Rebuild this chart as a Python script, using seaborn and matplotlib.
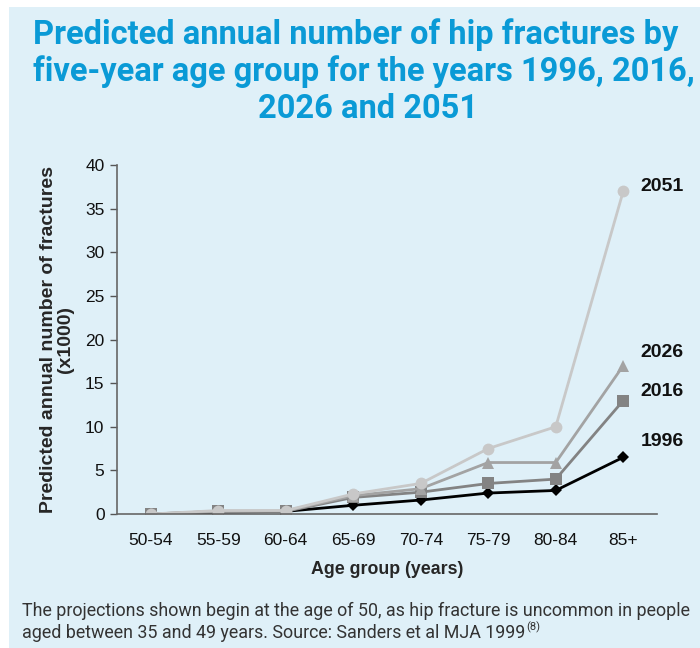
import matplotlib
matplotlib.use("Agg")
import matplotlib.pyplot as plt
import seaborn as sns
import pandas as pd

age_groups = ["50-54", "55-59", "60-64", "65-69", "70-74", "75-79", "80-84", "85+"]
years = ["1996", "2016", "2026", "2051"]
v1996 = [0.0, 0.2, 0.3, 1.0, 1.6, 2.4, 2.7, 6.5]
v2016 = [0.0, 0.3, 0.3, 1.9, 2.5, 3.5, 4.0, 13.0]
v2026 = [0.0, 0.3, 0.35, 2.1, 2.9, 5.9, 5.9, 17.0]
v2051 = [0.0, 0.4, 0.4, 2.3, 3.5, 7.5, 10.0, 37.0]
series = {"1996": v1996, "2016": v2016, "2026": v2026, "2051": v2051}

title_lines = ["Predicted annual number of hip fractures by",
               "five-year age group for the years 1996, 2016,",
               "2026 and 2051"]
xlabel = "Age group (years)"
ylabel = "Predicted annual number of fractures\n(x1000)"
note1 = "The projections shown begin at the age of 50, as hip fracture is uncommon in people"
note2 = "aged between 35 and 49 years. Source: Sanders et al MJA 1999"
note_sup = "(8)"

rows = []
for y in years:
    for i, (a, v) in enumerate(zip(age_groups, series[y])):
        rows.append({"age": a, "pos": i, "value": v, "year": y})
df = pd.DataFrame(rows)

sns.set_theme(style="white")
plt.rcParams["font.family"] = ["Liberation Sans", "DejaVu Sans"]

NARROW = ["Roboto", "DejaVu Sans"]
BG = "#dff0f8"
fig = plt.figure(figsize=(7.0, 6.48), dpi=100)
fig.patch.set_facecolor("white")
panel = plt.Rectangle((9 / 700, 0), 1, 1 - 7 / 648, transform=fig.transFigure,
                      facecolor=BG, edgecolor="none", zorder=-10)
fig.patches.append(panel)

ax = fig.add_axes([117 / 700, 1 - 514 / 648, (657 - 117) / 700, (514 - 165) / 648])
ax.set_facecolor(BG)

palette = {"1996": "#000000", "2016": "#838383", "2026": "#a3a3a3", "2051": "#c8c8c8"}
markers = {"1996": "D", "2016": "s", "2026": "^", "2051": "o"}
sizes_m = {"1996": 6.5, "2016": 8, "2026": 9, "2051": 8.5}

for y in years:
    sub = df[df["year"] == y]
    sns.lineplot(data=sub, x="pos", y="value", ax=ax, color=palette[y],
                 marker=markers[y], markersize=sizes_m[y], markeredgewidth=0,
                 linewidth=2, legend=False)

ax.set_xlim(-0.5, 7.5)
ax.set_ylim(0, 40)
ax.set_yticks(range(0, 41, 5))
ax.set_xticks(range(len(age_groups)))
ax.set_xticklabels(age_groups)
ax.tick_params(axis="y", which="both", left=True, length=5, width=1, color="#555555",
               labelsize=12.5, pad=4, labelcolor="#111111")
ax.tick_params(axis="x", which="both", bottom=False, labelsize=12.5, pad=8, labelcolor="#111111")
for s in ["top", "right"]:
    ax.spines[s].set_visible(False)
for s in ["left", "bottom"]:
    ax.spines[s].set_color("#666666")
    ax.spines[s].set_linewidth(1.2)

ax.set_xlabel(xlabel, fontsize=12.8, fontweight="bold", labelpad=9)
ax.set_ylabel(ylabel, fontsize=14, fontweight="bold", labelpad=8, linespacing=1.0)

# series labels at the right end
label_y = {"2051": 37.5, "2026": 18.5, "2016": 14.0, "1996": 8.3}
for y in years:
    ax.text(7.26, label_y[y], y, fontsize=14, fontweight="bold", color="#111111",
            va="center", ha="left", clip_on=False)

title_y = [35, 72, 109]
title_x = [356, 364, 368]
for line, yy, xx in zip(title_lines, title_y, title_x):
    fig.text(xx / 700, 1 - yy / 648, line, ha="center", va="center", fontsize=23.5,
             fontweight="bold", color="#0a9ad6", family=NARROW)

t1 = fig.text(22 / 700, 1 - 611 / 648, note1, ha="left", va="center", fontsize=12.85,
              color="#333333", family=NARROW)
t2 = fig.text(22 / 700, 1 - 633 / 648, note2, ha="left", va="center", fontsize=12.85,
              color="#333333", family=NARROW)
fig.canvas.draw()
bb = t2.get_window_extent()
fig.text((bb.x1 + 1) / 700, (bb.y1 - 3) / 648, note_sup, ha="left", va="center", fontsize=8,
         color="#333333", family=NARROW)

fig.savefig("out.png", dpi=100, facecolor=fig.get_facecolor())
